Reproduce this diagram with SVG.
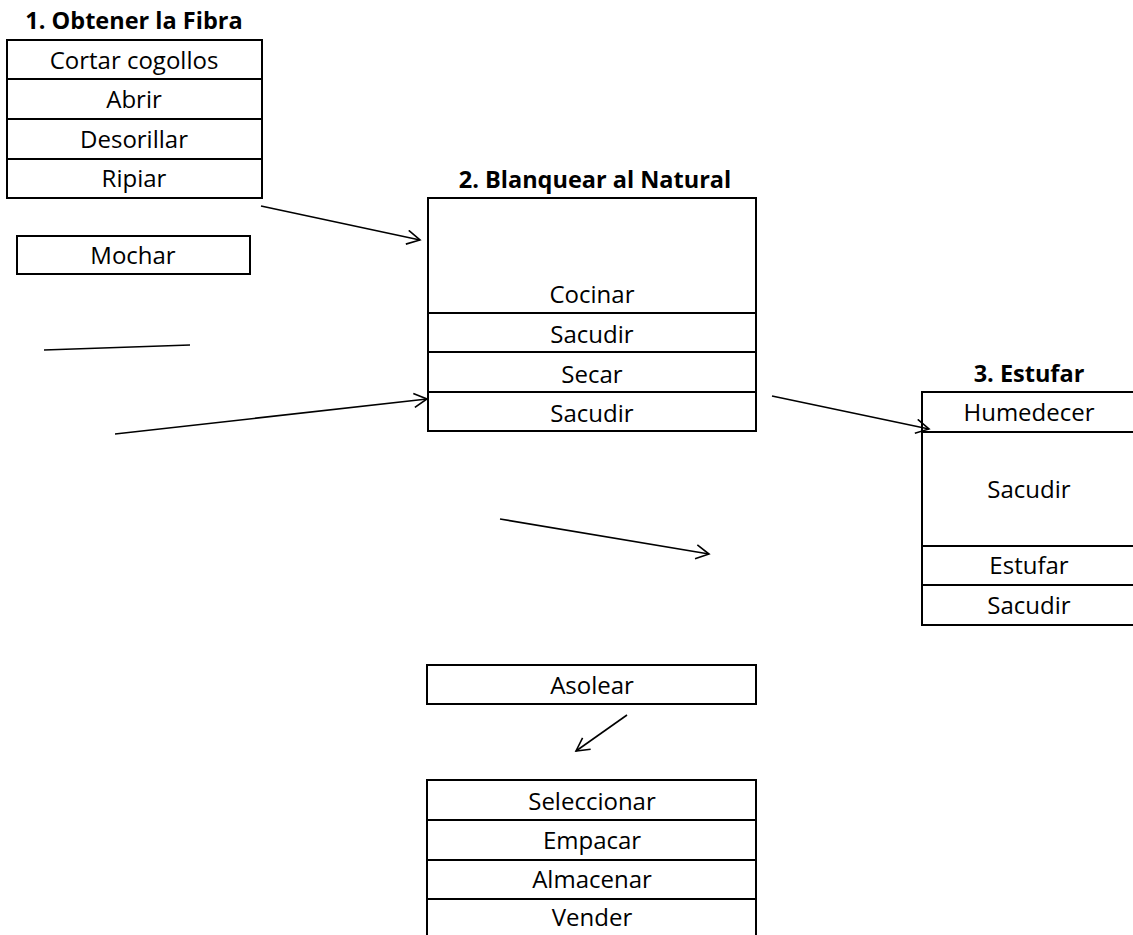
<svg xmlns="http://www.w3.org/2000/svg" width="1133" height="935" viewBox="0 0 1133 935">
<defs>
<style>
.box{fill:#fff;stroke:#000;stroke-width:2}
.sep{stroke:#000;stroke-width:2}
.t{font-family:"Open Sans","Liberation Sans",sans-serif;font-size:24px;fill:#000;text-anchor:middle}
.h{font-family:"Open Sans","Liberation Sans",sans-serif;font-size:23.5px;font-weight:bold;fill:#000;text-anchor:middle}
.c{fill:none;stroke:#000;stroke-width:1.6}
</style>
<marker id="arr" viewBox="0 0 16 16" refX="14" refY="8" markerWidth="16" markerHeight="16" markerUnits="userSpaceOnUse" orient="auto">
<path d="M1,1 L14,8 L1,15" fill="none" stroke="#000" stroke-width="1.6"/>
</marker>
</defs>
<rect width="1133" height="935" fill="#fff"/>

<g id="node-obtener">
<text class="h" x="134" y="29">1. Obtener la Fibra</text>
<rect class="box" x="7" y="40" width="255" height="158"/>
<line class="sep" x1="7" y1="79" x2="262" y2="79"/>
<line class="sep" x1="7" y1="119" x2="262" y2="119"/>
<line class="sep" x1="7" y1="159" x2="262" y2="159"/>
<text class="t" x="134" y="69">Cortar cogollos</text>
<text class="t" x="134" y="108">Abrir</text>
<text class="t" x="134" y="148">Desorillar</text>
<text class="t" x="134" y="187">Ripiar</text>
</g>

<g id="node-mochar">
<rect class="box" x="17" y="236" width="233" height="38"/>
<text class="t" x="133" y="264">Mochar</text>
</g>

<g id="node-blanquear">
<text class="h" x="595" y="188">2. Blanquear al Natural</text>
<rect class="box" x="428" y="198" width="328" height="233"/>
<line class="sep" x1="428" y1="313" x2="756" y2="313"/>
<line class="sep" x1="428" y1="352" x2="756" y2="352"/>
<line class="sep" x1="428" y1="392" x2="756" y2="392"/>
<text class="t" x="592" y="303">Cocinar</text>
<text class="t" x="592" y="343">Sacudir</text>
<text class="t" x="592" y="383">Secar</text>
<text class="t" x="592" y="422">Sacudir</text>
</g>

<g id="node-estufar">
<text class="h" x="1029" y="382">3. Estufar</text>
<rect class="box" x="922" y="392" width="215" height="233"/>
<line class="sep" x1="922" y1="432" x2="1137" y2="432"/>
<line class="sep" x1="922" y1="546" x2="1137" y2="546"/>
<line class="sep" x1="922" y1="585" x2="1137" y2="585"/>
<text class="t" x="1029" y="421">Humedecer</text>
<text class="t" x="1029" y="498">Sacudir</text>
<text class="t" x="1029" y="574">Estufar</text>
<text class="t" x="1029" y="614">Sacudir</text>
</g>

<g id="node-asolear">
<rect class="box" x="427" y="665" width="329" height="39"/>
<text class="t" x="592" y="694">Asolear</text>
</g>

<g id="node-final">
<rect class="box" x="427" y="780" width="329" height="160"/>
<line class="sep" x1="427" y1="820" x2="756" y2="820"/>
<line class="sep" x1="427" y1="860" x2="756" y2="860"/>
<line class="sep" x1="427" y1="899" x2="756" y2="899"/>
<text class="t" x="592" y="810">Seleccionar</text>
<text class="t" x="592" y="849">Empacar</text>
<text class="t" x="592" y="888">Almacenar</text>
<text class="t" x="592" y="926">Vender</text>
</g>

<g id="connectors">
<line class="c" x1="261" y1="206" x2="420" y2="240" marker-end="url(#arr)"/>
<line class="c" x1="44" y1="350" x2="190" y2="345"/>
<line class="c" x1="115" y1="434" x2="427" y2="399" marker-end="url(#arr)"/>
<line class="c" x1="772" y1="396" x2="929" y2="429" marker-end="url(#arr)"/>
<line class="c" x1="500" y1="519" x2="709" y2="554" marker-end="url(#arr)"/>
<line class="c" x1="627" y1="715" x2="576" y2="751" marker-end="url(#arr)"/>
</g>
</svg>
